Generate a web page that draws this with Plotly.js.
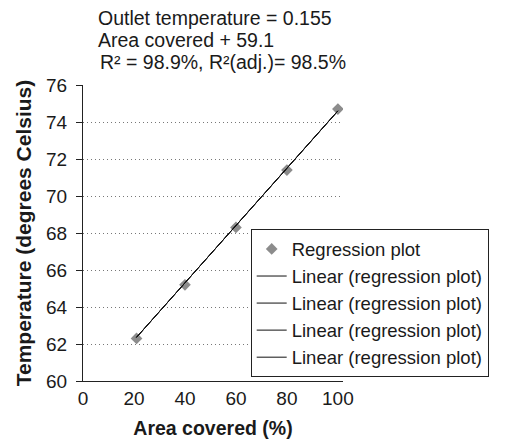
<!DOCTYPE html>
<html>
<head>
<meta charset="utf-8">
<script src="https://cdn.plot.ly/plotly-3.0.1.min.js"></script>
<style>html,body{margin:0;padding:0;background:#fff;}#chart{width:509px;height:443px;}</style>
</head>
<body>
<div id="chart"></div>
<script>
var areaCovered = [21, 40, 60, 80, 100];
var outletTemp = [62.3, 65.2, 68.3, 71.4, 74.7];
var fitX = [21, 100];
var fitY = [62.36, 74.6];
var yTicks = [60, 62, 64, 66, 68, 70, 72, 74, 76];
var xTicks = [0, 20, 40, 60, 80, 100];
var pointName = "Regression plot";
var lineName = "Linear (regression plot)";
var equationLines = ["Outlet temperature = 0.155", "Area covered + 59.1", " R\u00b2 = 98.9%, R\u00b2(adj.)= 98.5%"];

var font = "Liberation Sans, Arial, sans-serif";
var traces = [{
  x: areaCovered, y: outletTemp, type: "scatter", mode: "markers", name: pointName,
  marker: {symbol: "diamond", size: 9, color: "#8c8c8c"}
}];
for (var i = 0; i < 4; i++) {
  traces.push({x: fitX, y: fitY, type: "scatter", mode: "lines", name: lineName,
    line: {color: "#111", width: 1}});
}
var eqY = [1.226, 1.152, 1.078];
var eqX = [0.05, 0.05, 0.058];
var annotations = equationLines.map(function (t, k) {
  return {text: t.trim(), xref: "paper", yref: "paper", x: eqX[k], y: eqY[k],
    xanchor: "left", yanchor: "middle", align: "left", showarrow: false,
    font: {family: font, size: 19.5, color: "#1a1a1a"}};
});
var layout = {
  width: 509, height: 443,
  margin: {l: 83, r: 166, t: 85, b: 62},
  paper_bgcolor: "#fff", plot_bgcolor: "#fff",
  font: {family: font, size: 19, color: "#1a1a1a"},
  showlegend: true,
  legend: {x: 0.645, y: 0.512, xanchor: "left", yanchor: "top", bgcolor: "#fff",
    bordercolor: "#222", borderwidth: 1, font: {family: font, size: 18.5, color: "#1a1a1a"},
    itemwidth: 30},
  xaxis: {range: [0, 102], tickvals: xTicks, ticktext: xTicks.map(String), showgrid: false, zeroline: false,
    showline: true, linecolor: "#222", linewidth: 1, ticks: "", tickfont: {size: 19},
    title: {text: "<b>Area covered (%)</b>", font: {size: 19.5}, standoff: 13}},
  yaxis: {range: [60, 76], tickvals: yTicks, showgrid: true, gridcolor: "#777", griddash: "1px,3px", gridwidth: 1,
    zeroline: false, showline: true, linecolor: "#222", linewidth: 1, ticks: "outside", ticklen: 6,
    tickcolor: "#222", tickfont: {size: 19}, ticklabelstandoff: 5,
    title: {text: "<b>Temperature (degrees Celsius)</b>", font: {size: 21}, standoff: 8}},
  annotations: annotations
};
Plotly.newPlot("chart", traces, layout, {displayModeBar: false, staticPlot: true});
</script>
</body>
</html>
